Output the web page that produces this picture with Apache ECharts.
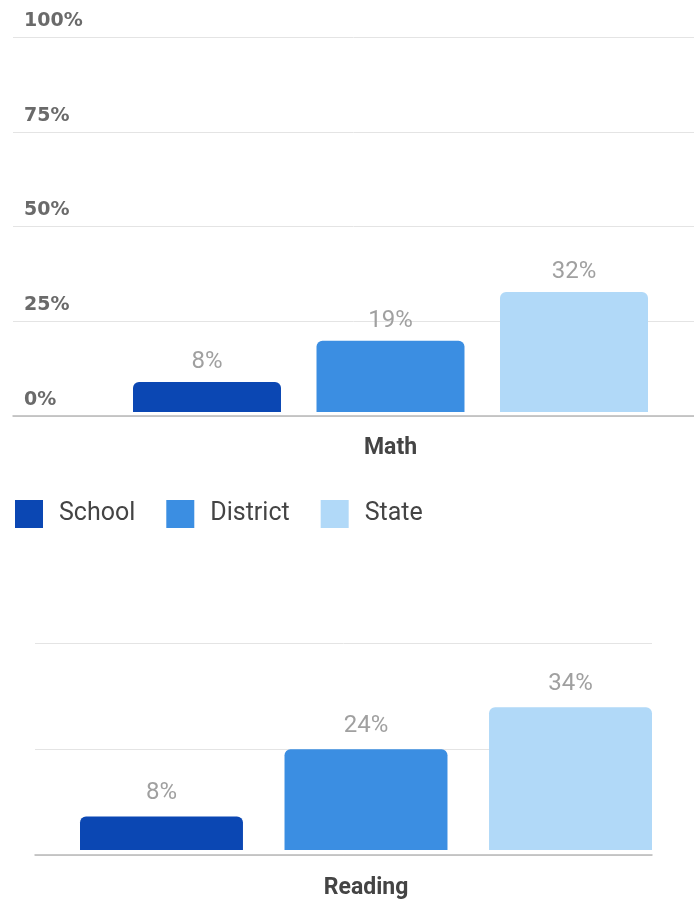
<!DOCTYPE html>
<html>
<head>
<meta charset="utf-8">
<script src="https://cdn.jsdelivr.net/npm/echarts@6/dist/echarts.min.js"></script>
<style>
html,body{margin:0;padding:0;background:#fff;}
#c{width:694px;height:902px;}
</style>
</head>
<body>
<div id="c"></div>
<script>
// Data
const seriesNames = ['School', 'District', 'State'];
const mathCategory = ['Math'];
const readingCategory = ['Reading'];
const mathValues = [8, 19, 32];
const readingValues = [8, 24, 34];
const mathTicks = [0, 25, 50, 75, 100];
const readingTicks = [0, 25, 50];
const colors = ['#0b47b3', '#3b8ee2', '#b1d9f8'];

const FONT = 'Roboto, "Noto Sans", sans-serif';

const chart = echarts.init(document.getElementById('c'), null, {renderer: 'canvas'});

function labelCfg(dist) {
  return {
    show: true,
    position: 'top',
    distance: dist,
    formatter: p => p.value + '%',
    color: '#a0a0a0',
    fontSize: 24,
    fontFamily: FONT
  };
}

const series = [];
seriesNames.forEach((name, i) => {
  series.push({
    name: name,
    type: 'bar',
    xAxisIndex: 1,
    yAxisIndex: 1,
    data: [mathValues[i]],
    itemStyle: {color: colors[i], borderRadius: [6, 6, 0, 0]},
    barGap: '24%',
    barCategoryGap: '0%',
    label: labelCfg(8),
    emphasis: {disabled: true}
  });
});
seriesNames.forEach((name, i) => {
  series.push({
    name: name,
    type: 'bar',
    xAxisIndex: 3,
    yAxisIndex: 3,
    data: [readingValues[i]],
    itemStyle: {color: colors[i], borderRadius: [6, 6, 0, 0]},
    barGap: '25.5%',
    barCategoryGap: '0%',
    label: labelCfg(11),
    emphasis: {disabled: true}
  });
});

const gridLine = {show: true, lineStyle: {color: '#e4e4e4', width: 1}};

chart.setOption({
  animation: false,
  color: colors,
  legend: {
    data: seriesNames,
    left: 15,
    top: 500,
    padding: 0,
    itemWidth: 28,
    itemHeight: 28,
    itemGap: 31,
    icon: 'rect',
    textStyle: {fontSize: 25, color: '#444', fontFamily: FONT, padding: [0, 0, 0, 11]}
  },
  grid: [
    {left: 13, right: 0, top: 37, height: 379},
    {left: 133, right: 46, top: 37, height: 375},
    {left: 35, right: 42, top: 643, height: 212},
    {left: 80, right: 42, top: 640, height: 210}
  ],
  xAxis: [
    {gridIndex: 0, type: 'category', data: mathCategory,
     axisLine: {show: true, lineStyle: {color: '#b8b8b8', width: 1.5}},
     axisTick: {show: false}, axisLabel: {show: false}},
    {gridIndex: 1, type: 'category', data: mathCategory,
     axisLine: {show: false}, axisTick: {show: false},
     axisLabel: {show: true, margin: 25, fontSize: 23, fontWeight: 'bold', color: '#444', fontFamily: FONT}},
    {gridIndex: 2, type: 'category', data: readingCategory,
     axisLine: {show: true, lineStyle: {color: '#b8b8b8', width: 1.5}},
     axisTick: {show: false}, axisLabel: {show: false}},
    {gridIndex: 3, type: 'category', data: readingCategory,
     axisLine: {show: false}, axisTick: {show: false},
     axisLabel: {show: true, margin: 27, fontSize: 23, fontWeight: 'bold', color: '#444', fontFamily: FONT}}
  ],
  yAxis: [
    {gridIndex: 0, type: 'value', min: mathTicks[0], max: mathTicks[mathTicks.length - 1], interval: 25,
     splitLine: gridLine, axisLine: {show: false}, axisTick: {show: false},
     axisLabel: {show: true, inside: true, margin: 11, verticalAlign: 'bottom', align: 'left',
       padding: [0, 0, 5, 0], lineHeight: 22,
       formatter: v => mathTicks.includes(v) ? v + '%' : '',
       fontSize: 19, fontWeight: 'bold', color: '#6a6a6a', fontFamily: '"DejaVu Sans", sans-serif'}},
    {gridIndex: 1, type: 'value', min: 0, max: 100, show: false, splitLine: {show: false}},
    {gridIndex: 2, type: 'value', min: readingTicks[0], max: readingTicks[readingTicks.length - 1], interval: 25,
     splitLine: gridLine, axisLine: {show: false}, axisTick: {show: false}, axisLabel: {show: false}},
    {gridIndex: 3, type: 'value', min: 0, max: 50, show: false, splitLine: {show: false}}
  ],
  series: series
});
</script>
</body>
</html>
